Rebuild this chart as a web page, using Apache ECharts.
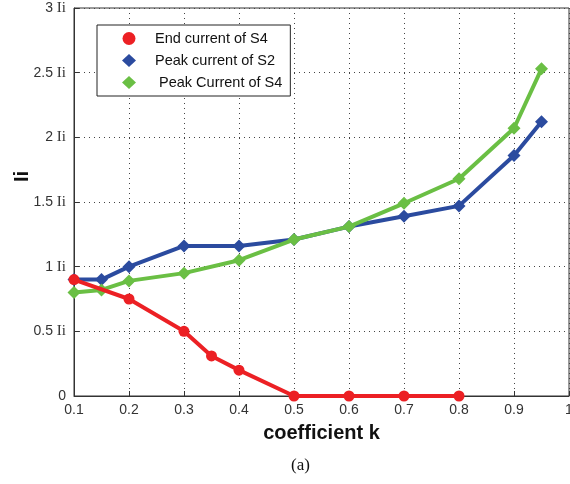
<!DOCTYPE html>
<html>
<head>
<meta charset="utf-8">
<script src="https://cdn.jsdelivr.net/npm/echarts@6/dist/echarts.min.js"></script>
<style>
html, body { margin: 0; padding: 0; background: #fff; }
#chart { width: 570px; height: 484px; }
</style>
</head>
<body>
<div id="chart"></div>
<script>
var kEnd = [0.1, 0.2, 0.3, 0.35, 0.4, 0.5, 0.6, 0.7, 0.8];
var endS4 = [0.9, 0.75, 0.5, 0.31, 0.2, 0, 0, 0, 0];
var kPeak = [0.1, 0.15, 0.2, 0.3, 0.4, 0.5, 0.6, 0.7, 0.8, 0.9, 0.95];
var peakS2 = [0.9, 0.9, 1.0, 1.16, 1.16, 1.21, 1.31, 1.39, 1.47, 1.86, 2.12];
var peakS4 = [0.8, 0.82, 0.89, 0.95, 1.05, 1.21, 1.31, 1.49, 1.68, 2.07, 2.53];

function pairs(xs, ys) {
	return xs.map(function(x, i) { return [x, ys[i]]; });
}

var chart = echarts.init(document.getElementById('chart'));

var gridLine = { show: true, lineStyle: { color: '#444', type: [1, 4], width: 1 } };

var option = {
	backgroundColor: '#fff',
	animation: false,
	grid: {
		left: 74, right: 1, top: 8, bottom: 88, show: true, borderColor: '#333', borderWidth: 1,
		containLabel: false, outerBoundsMode: 'none'
	},
	title: {
		text: '(a)', left: 286, top: 452,
		textStyle: { fontFamily: 'Liberation Serif', fontSize: 17, fontWeight: 'normal', color: '#111' }
	},
	// y axis name, placed by hand
	graphic: [{
		type: 'text', left: 12, top: 171, rotation: Math.PI / 2,
		style: { text: 'Ii', font: 'bold 20px "Liberation Sans"', fill: '#111' }
	}],
	legend: {
		orient: 'vertical', left: 97, top: 25,
		padding: [6, 8, 6, 25], itemGap: 7, itemWidth: 14, itemHeight: 13,
		backgroundColor: '#fff', borderColor: '#222', borderWidth: 1,
		textStyle: { fontFamily: 'Liberation Sans', fontSize: 14.5, color: '#111', padding: [0, 0, 0, 14] },
		data: [
			{ name: 'End current of S4', icon: 'circle' },
			{ name: 'Peak current of S2', icon: 'diamond' },
			{ name: ' Peak Current of S4', icon: 'diamond' }
		]
	},
	xAxis: {
		type: 'value', min: 0.1, max: 1, interval: 0.1,
		name: 'coefficient k', nameLocation: 'middle', nameGap: 27,
		nameTextStyle: { fontFamily: 'Liberation Sans', fontSize: 20, fontWeight: 'bold', color: '#111' },
		axisLine: { lineStyle: { color: '#333' } },
		axisTick: { inside: true, length: 5, lineStyle: { color: '#333' } },
		axisLabel: {
			fontFamily: 'Liberation Sans', fontSize: 14, color: '#333', margin: 7,
			formatter: function(v) { return Math.abs(v - 1) < 1e-6 ? '1' : v.toFixed(1); }
		},
		splitLine: gridLine
	},
	yAxis: {
		type: 'value', min: 0, max: 3, interval: 0.5,
		axisLine: { show: true, lineStyle: { color: '#333' } },
		axisTick: { show: true, inside: true, length: 5, lineStyle: { color: '#333' } },
		axisLabel: {
			fontFamily: 'Liberation Sans', fontSize: 14, color: '#333', margin: 8,
			formatter: function(v) { return v === 0 ? '0' : v + ' {s|Ii}'; },
			rich: { s: { fontFamily: 'Liberation Serif', fontSize: 15, color: '#333' } }
		},
		splitLine: gridLine
	},
	series: [
		{
			name: 'End current of S4', type: 'line', data: pairs(kEnd, endS4),
			symbol: 'circle', symbolSize: 11, color: '#ec2024',
			lineStyle: { width: 4, color: '#ec2024' }, z: 4
		},
		{
			name: 'Peak current of S2', type: 'line', data: pairs(kPeak, peakS2),
			symbol: 'diamond', symbolSize: 13, color: '#2b4b9f',
			lineStyle: { width: 4, color: '#2b4b9f' }, z: 2
		},
		{
			name: ' Peak Current of S4', type: 'line', data: pairs(kPeak, peakS4),
			symbol: 'diamond', symbolSize: 13, color: '#6abf44',
			lineStyle: { width: 4, color: '#6abf44' }, z: 3
		}
	]
};

chart.setOption(option);
</script>
</body>
</html>
